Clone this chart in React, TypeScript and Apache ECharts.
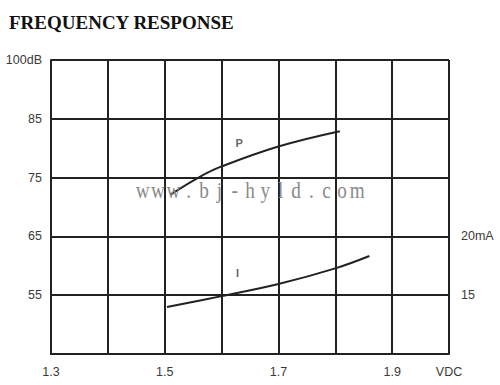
import React, { useEffect, useRef } from "react";
import * as echarts from "echarts";

const titleText = "FREQUENCY RESPONSE";
const watermark = "www.bj-hyld.com";
const xTickLabels: Record<number, string> = { 13: "1.3", 15: "1.5", 17: "1.7", 19: "1.9", 20: "VDC" };
const leftTickLabels: Record<number, string> = { 55: "55", 65: "65", 75: "75", 85: "85", 95: "100dB" };
const rightTickLabels: Record<number, string> = { 15: "15", 20: "20mA" };
// P curve (dB, left axis)
const pVolts = [1.51, 1.561, 1.6, 1.7, 1.808];
const pDb = [72.1, 75.1, 76.9, 80.3, 82.9];
// I curve (mA, right axis)
const iVolts = [1.504, 1.6, 1.7, 1.8, 1.86];
const iMa = [14.0, 14.92, 15.95, 17.28, 18.33];
const curveLabels = [
  { name: "P", x: 1.631, y: 80.9 },
  { name: "I", x: 1.628, y: 58.8 },
];

export default function App() {
  const ref = useRef<HTMLDivElement>(null);
  useEffect(() => {
    document.body.style.margin = "0";
    const chart = echarts.init(ref.current!, undefined, { renderer: "svg" });
    const lineColor = "#222";
    const labelStyle = { color: "#3a3a3a", fontSize: 12.5, fontFamily: "Liberation Sans, Arial, sans-serif" };
    const pitch = 15.33;
    const wmChars = watermark.split("").map((ch, i) => ({
      type: "text",
      x: 135 + pitch * i + pitch / 2,
      y: 202,
      z: 100,
      scaleX: 0.8,
      style: {
        text: ch,
        fontFamily: "Liberation Serif, serif",
        fontSize: 24,
        fill: "#8a8a8a",
        align: "center",
        verticalAlign: "bottom",
      },
    }));
    chart.setOption({
      animation: false,
      backgroundColor: "#fff",
      title: {
        text: titleText,
        left: 4,
        top: 8,
        textStyle: { fontFamily: "Liberation Serif, serif", fontWeight: "bold", fontSize: 19, color: "#111" },
      },
      grid: { left: 51, right: 51, top: 60, bottom: 31 },
      xAxis: {
        type: "value",
        min: 1.3,
        max: 2.0,
        interval: 0.1,
        axisLine: { show: true, lineStyle: { color: lineColor, width: 2 } },
        axisTick: { show: false },
        splitLine: { show: true, lineStyle: { color: lineColor, width: 2 } },
        axisLabel: {
          ...labelStyle,
          margin: 11,
          showMinLabel: true,
          showMaxLabel: true,
          formatter: (v: number) => xTickLabels[Math.round(v * 10)] ?? "",
        },
      },
      yAxis: [
        {
          type: "value",
          min: 45,
          max: 95,
          interval: 10,
          axisLine: { show: true, lineStyle: { color: lineColor, width: 2 } },
          axisTick: { show: false },
          splitLine: { show: true, lineStyle: { color: lineColor, width: 2 } },
          axisLabel: {
            ...labelStyle,
            margin: 9,
            formatter: (v: number) => leftTickLabels[Math.round(v)] ?? "",
          },
        },
        {
          type: "value",
          min: 10,
          max: 35,
          interval: 5,
          position: "right",
          axisLine: { show: false },
          axisTick: { show: false },
          splitLine: { show: false },
          axisLabel: {
            ...labelStyle,
            margin: 12,
            formatter: (v: number) => rightTickLabels[Math.round(v)] ?? "",
          },
        },
      ],
      series: [
        {
          type: "line",
          name: "P",
          yAxisIndex: 0,
          smooth: 0.4,
          showSymbol: false,
          data: pVolts.map((x, i) => [x, pDb[i]]),
          lineStyle: { color: lineColor, width: 2 },
        },
        {
          type: "line",
          name: "I",
          yAxisIndex: 1,
          smooth: 0.4,
          showSymbol: false,
          data: iVolts.map((x, i) => [x, iMa[i]]),
          lineStyle: { color: lineColor, width: 2 },
        },
        {
          type: "scatter",
          yAxisIndex: 0,
          symbolSize: 1,
          itemStyle: { color: "rgba(0,0,0,0)" },
          data: curveLabels.map((c) => ({ value: [c.x, c.y], name: c.name })),
          label: {
            show: true,
            position: "top",
            distance: -6,
            formatter: (p: any) => p.name,
            color: "#3a3a3a",
            fontWeight: "bold",
            fontSize: 11,
            fontFamily: "Liberation Sans, Arial, sans-serif",
          },
        },
      ],
      graphic: wmChars,
    });
    return () => chart.dispose();
  }, []);
  return <div ref={ref} style={{ width: 500, height: 385 }} />;
}
